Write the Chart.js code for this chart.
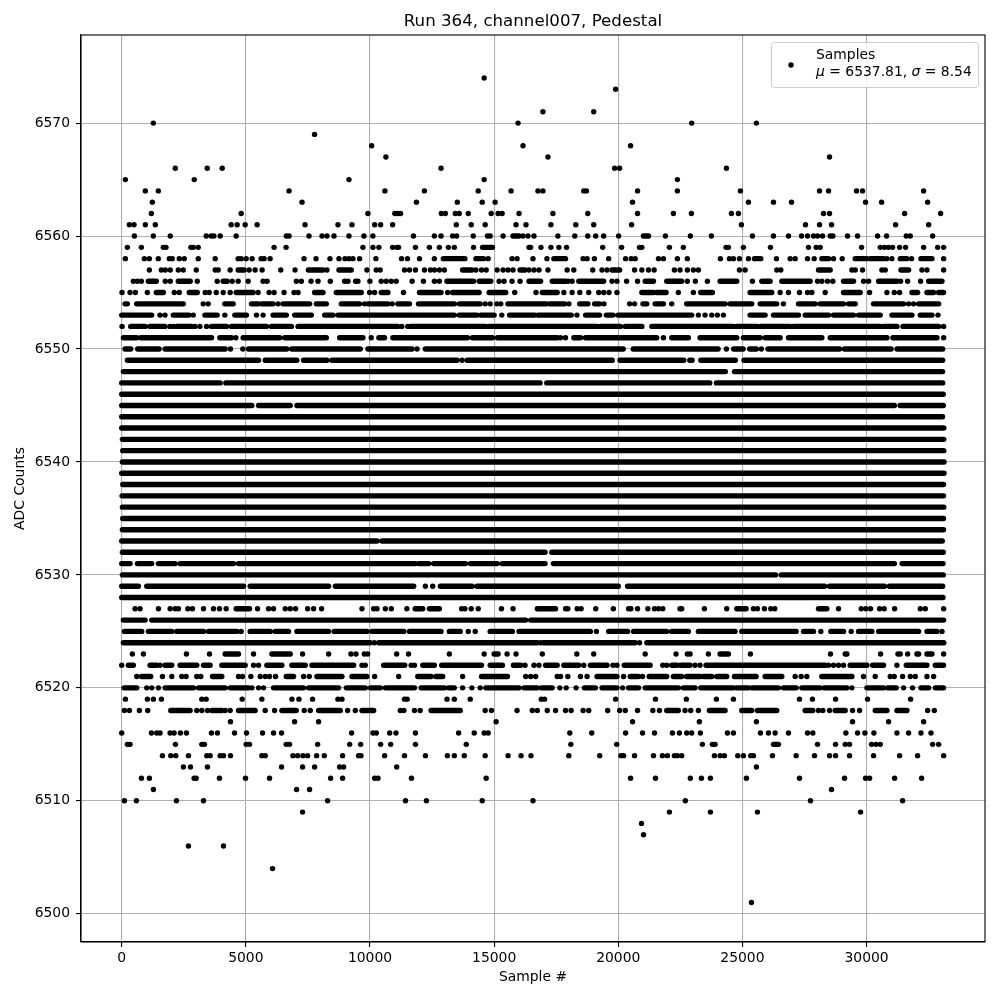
<!DOCTYPE html>
<html>
<head>
<meta charset="utf-8">
<title>Run 364, channel007, Pedestal</title>
<script src="https://cdn.jsdelivr.net/npm/chart.js@4"></script>
<style>
    html, body { margin: 0; padding: 0; background: #fff; }
    canvas { display: block; }
</style>
</head>
<body>
<canvas id="graficoPedestal" width="1000" height="1000"></canvas>
<script>
const xTicks = [0, 5000, 10000, 15000, 20000, 25000, 30000]
const yTicks = [6500, 6510, 6520, 6530, 6540, 6550, 6560, 6570]

// ADC level of each row, same order as samplesByLevel
const levels = [
    6574, 6573, 6571, 6570, 6569, 6568, 6567, 6566, 6565, 6564, 6563, 6562, 6561, 6560, 6559, 6558, 6557, 6556,
    6555, 6554, 6553, 6552, 6551, 6550, 6549, 6548, 6547, 6546, 6545, 6544, 6543, 6542, 6541, 6540, 6539, 6538,
    6537, 6536, 6535, 6534, 6533, 6532, 6531, 6530, 6529, 6528, 6527, 6526, 6525, 6524, 6523, 6522, 6521, 6520,
    6519, 6518, 6517, 6516, 6515, 6514, 6513, 6512, 6511, 6510, 6509, 6508, 6507, 6506, 6504, 6501
]

// a number is one sample, a pair is a stretch where the dots touch
const samplesByLevel = [
    [14599],
    [19893],
    [16965, 19011],
    [1273, 15963, 22957, 25564],
    [7767],
    [10066, 16163, 20495],
    [10640, 17166, 28508],
    [2157, 3444, 4047, 12861, 19853, 20054, 24355],
    [147, 2921, 9152, 14599, 22380],
    [951, 1474, 6740, 10600, 12192, 14358, 15682, 16765, 16965, 18610, 18717, 20776, 22380, 24919, 28105, 28468, 29596, 29838, 32298],
    [1233, 7263, 11871, 13516, 14519, 15040, 20575, 25242, 26250, 26976, 29959, 30605, 32459],
    [1193, 4811, 9916, 11000, 11122, 11229, 12874, 13035, 13436, 13596, 13957, 14880, 15160, 15321, 16003, 17366, 18770, 20776, 22220, 22944, 24556, 24839, 28266, 28508, 31532, 32983],
    [308, 496, 951, 1353, 4409, 4650, 4971, 5454, 7383, 8710, 9273, 10187, 10428, 10911, 13476, 14077, 14639, 15882, 16283, 17286, 18289, 19011, 20535, 24960, 27540, 28105, 28589, 31169, 32500],
    [509, 1273, 1956, 3404, 3605, 3712, 3966, 4610, 6633, 6740, 7544, 8067, 8268, 8549, 9152, 9755, 10117, 11751, 12593, 12861, 13329, 13489, 14158, 14733, 14840, 15361, [15762, 16003], 16163, 16364, 16604, 17567, 18249, 18770, 19091, 19412, 20014, [21017, 21217], 21899, 22903, 23750, 25403, 26250, 26855, 27380, 27621, 27863, 28024, 28226, 28535, 28642, 29234, 29637, 30443, 30806, 31599, 31760, 32661],
    [228, 791, 1675, 1782, 2787, 2881, 3082, 6137, 6620, 9715, 10117, 10358, 10911, 11085, 11149, 11831, 12393, 12794, 13155, 13396, 14171, [14532, 14933], 16404, 16471, 16885, 17286, 17607, 17915, 19372, 20134, 20856, 20950, 22059, 22621, 24341, 24436, 25040, 26129, 27661, 27970, 28131, 29798, 30551, 30722, 30884, 31047, 31330, 31572, 32298, 32862, 33104],
    [147, 911, 1112, 1474, 1916, 2037, 2318, 2519, 3082, 3765, 4690, 4811, 5012, 5253, 5615, 5735, 5976, 7343, 7826, 8388, 8750, 8991, 9152, 9313, 9581, 10238, 11270, 11510, 11992, 12593, [12954, 13823], [14265, 14572], 14759, 15722, 15922, 16564, 17126, [17406, 17875], 18583, 18744, 19038, 19613, 20295, 20522, 20682, 21618, 21819, 22380, 22782, 24113, 24476, 24637, 24879, 25242, [25484, 25739], 26371, 26922, 27124, 27621, 27890, [28199, 28468], 28669, 29019, [29543, 30013], [30148, 30685], 30820, 31021, [31357, 31626], 31814, [32190, 32634], 33104],
    [1112, 1595, 1755, 1956, 2278, 2479, 3002, 3765, 3886, 4368, [4690, 4932], 5132, 5373, 5655, 6405, 6981, [7517, 8107], 8268, [8750, 9246], 9876, 10251, 10412, 11390, 11590, 11831, 12192, 12433, 12593, 12794, 12995, [13730, 14104], 14265, 14492, 14679, 15120, 15361, 15562, 15762, [16043, 16243], 16404, 16604, 16805, 17166, 17941, 18209, 18971, 19345, 19546, [19747, 20054], 20655, 20950, 21217, 21444, 22260, 22487, 22782, 23024, 23226, 24879, 25108, 26384, 26546, [28064, 28535], 29408, 29543, 29838, 30618, 30752, [31384, 31693], 32231, 32432, 33104],
    [469, 630, 791, [1072, 1394], 1755, 1956, [2278, 2760], 3042, 3846, [4087, 4248], 4449, 4690, 5092, 5695, 5856, 7035, 7236, 7625, 7906, 8402, 8978, 9112, 9420, 9514, 9996, 10452, 10653, 10854, 11056, 11697, 12152, 12593, 12794, [13101, 14171], [14398, 14866], 15200, 15401, 15722, 16043, [16404, 16872], [17340, 17875], 17981, 18142, [18409, 19412], 19747, 19947, 20335, 20776, [21083, 21418], [21952, 22554], 22782, 23105, 23589, [24100, 24772], 25403, [25780, 26116], [26586, 27728], 28024, 28199, 28428, 28642, [29072, 29408], 29475, 29879, 30081, [30484, 31223], 31371, 31653, 32177, [32500, 33037]],
    [13, 335, 549, 1032, [1394, 1675], 2117, 2318, [2720, 3042], 3363, 3524, 3806, 4087, 4368, [4610, 5293], 5494, 5936, 6137, 6539, 6941, 7102, [7772, 8107], [8643, 9648], 9983, 10184, [10452, 10720], 11350, [11992, 12861], 13128, [13329, 14398], [14799, 15468], 15829, 16685, [16939, 17540], 17808, 18142, 18449, 18810, 19212, 19412, 19626, 19947, [20950, 21418], [21551, 21926], 22419, 23024, [23320, 23790], [25309, 26183], 26519, 26855, 27298, 27621, 27796, 28333, [29072, 29745], 30121, 30820, 31115, 31330, [31828, 32056], [32432, 32701], [32903, 33100]],
    [[134, 228], [603, 2479], 3283, 3484, [4154, 4489], [5226, 5494], [5628, 6097], 6298, [6499, 7571], [7839, 8241], [8844, 9581], 9782, [9916, 10720], 10894, 11122, [11190, 11590], [11952, 13396], [13596, 14438], 14639, 14840, 15107, 15267, [15555, 17099], [17233, 17838], 18012, [18443, 18778], [19047, 19248], 19423, 20457, 20658, [20993, 21150], [21485, 21819], 22153, [22755, 24301], [24503, 25376], [25712, 26384], 26653, [27258, 27930], [28131, 29072], [29274, 29543], [30282, 31491], 31693, 31894, [32096, 32903]],
    [[0, 1206], 1541, 1742, [2077, 2707], 2881, [3350, 3846], 4154, [4556, 5025], 5427, 5695, [6097, 6633], [6968, 7638], [8174, 8509], [8710, 13396], [13596, 14305], [14465, 15000], 15307, [15622, 16629], [16763, 18107], 18335, [18684, 19248], [19517, 19785], [19987, 22957], 23226, 23495, 23764, 23992, 24234, [25309, 25914], [26250, 27258], [27527, 28468], [28669, 29475], [29677, 30551], [31021, 31828], [32163, 32634], 32876],
    [13, [363, 940], [1139, 1742], 1943, 2077, [2211, 2815], 2949, 3149, 3417, [3618, 4221], [4422, 5829], [6030, 6834], [7102, 11122], 11280, 11520, [11630, 14666], [14799, 19145], [19278, 20081], [20281, 20950], [21351, 24637], [24772, 25578], [25712, 26922], [27056, 30551], [30685, 31223], [31465, 32903], 33104],
    [[67, 603], [764, 3618], [3953, 4422], 4596, [4891, 6365], [6566, 8241], [8777, 9715], 10050, [10358, 10586], [10921, 13930], [14131, 14933], [15134, 17540], 17674, 17875, [18209, 18476], [18677, 21551], 21819, [22153, 22823], [23293, 24772], [25040, 25712], [25914, 26519], [26855, 28199], [28535, 30820], [31061, 32835], 33104],
    [[134, 363], [645, 1505], [1747, 4166], 4381, 4879, [5107, 6653], [6854, 9610], [9919, 11693], 11894, [12230, 20201], [20603, 24020], 24355, [24650, 25025], [25293, 25561], 25762, [26030, 28911], [29112, 30988], [31229, 33065]],
    [[228, 5510], [5779, 7056], [7325, 8266], [8467, 13507], 13708, [13910, 19759], [20067, 22640], [22881, 22975], [23323, 24717], [25065, 33065]],
    [[67, 24315], [24677, 33065]],
    [[0, 3965], [4193, 16851], [17119, 23685], [23953, 33065]],
    [[0, 33090]],
    [[0, 5242], [5510, 6787], [7056, 31122], [31350, 33090]],
    [[0, 33060]],
    [[0, 33110]],
    [[27, 33110]],
    [[40, 33110]],
    [[27, 33120]],
    [[0, 33120]],
    [[40, 33100]],
    [[13, 33100]],
    [[27, 33110]],
    [[40, 33100]],
    [[27, 33100]],
    [[0, 10282], [10483, 33050]],
    [[27, 17052], [17320, 33090]],
    [[0, 336], [632, 1210], [1478, 2150], [2352, 4502], [4704, 11827], [11962, 12365], [12566, 13843], [14045, 15120], [15320, 17052], [17387, 31122], [31430, 33080]],
    [[27, 26338], [26566, 33090]],
    [[0, 672], [1008, 4906], [5174, 8333], [8602, 11760], 12230, 12526, [12835, 14112], [14314, 20000], [20375, 28308], [28509, 30720], [30921, 33065]],
    [[0, 33080]],
    [538, 739, 1478, 1949, 2150, 2285, 2661, 2849, 3293, 3696, 3938, 4207, [4610, 5148], 5470, 5914, 6115, 6586, 6787, 7002, 7486, 7728, 8051, 9677, 10147, 10282, 10618, 10860, 11484, [11818, 12125], [12393, 12794], 13690, 13823, 14077, 14358, 15294, 15762, [16738, 17473], 17875, 17968, 18343, 18503, 19091, 19800, 20415, 20508, 20776, 21190, 21458, 21618, 21792, 22487, 22554, 23468, 24368, [24772, 25148], 25444, 25605, 25887, 26142, 26304, [28064, 28400], 28871, 29785, 29973, 30161, 30524, 30712, 31129, 32164, 32365, 33104],
    [[67, 941], [1210, 16270], [16470, 33104]],
    [[108, 806], [1075, 2016], [2218, 3293], [3494, 4637], 4811, [5174, 5981], [6182, 6720], [7056, 8333], [8561, 9878], [10080, 11363], [11590, 12861], [13195, 13636], 13957, 14238, [14840, 15735], [16003, 18877], 19118, [19613, 20375], [20615, 21952], [22150, 22823], [23226, 24704], [24973, 27164], [27460, 27863], 28158, [28562, 29072], 29381, [29677, 30215], [30484, 32096], [32432, 32835], 33037],
    [[67, 10013], 10174, [10349, 16738], 16872, [16979, 20682], 20856, [21150, 33110]],
    [430, 874, 2607, 3535, [4166, 4704], 5309, [6048, 6787], 7284, 8333, 9233, 9435, 9771, 9905, 11074, 11550, 13195, 14599, [15000, 15160], 15521, 15882, 16939, 18329, 19011, 21083, 22327, 22782, 22890, 23629, [24100, 24436], 25322, 28548, 29140, 29207, 30564, 31263, 31356, 31653, 32029, 32096, [32432, 32634], 33104],
    [0, [269, 470], [1142, 1411], 1545, [1747, 2016], [2352, 3024], [3293, 3562], [4032, 4973], 5309, 5510, [5846, 6451], [6854, 7392], [7661, 9341], 9677, 9811, [10550, 11400], 11658, 11791, [12125, 12593], [12888, 14492], [14840, 15334], [15775, 16070], 16243, 16604, 16805, [17072, 17540], [17808, 18409], 18610, [18877, 19546], 19787, 19947, [20241, 21284], 21792, 21952, [22153, 22354], [22487, 22890], 23092, 23293, [23535, 28333], 28467, 28668, 28871, 29072, [29340, 30013], [30242, 30685], 31223, [31599, 32432], [32768, 33100]],
    [605, [800, 1169], 1640, 2016, 2419, 2594, 3024, 3185, [3656, 4032], 4704, 4865, 5201, 5578, 5779, 5954, 6196, [6626, 6922], 7325, 7553, [7862, 8870], [9274, 9878], 10188, 11155, [11925, 12460], [12660, 12928], 13730, [14492, 15535], 16270, 16470, 16671, 17540, 17674, 17968, 18476, 18744, [19145, 19947], 20215, [20482, 20816], 20976, [21244, 21952], [22220, 22554], [22756, 23293], [23427, 23764], [23966, 24368], [24677, 25551], [25914, 26586], 27124, 27366, 27594, [28198, 29408], 29879, 30349, 30954, 31115, 31451, 31760, 31962, 32432, 32701],
    [[94, 605], 1008, 1210, 1478, [1747, 2890], [3091, 4166], [4368, 5107], 5242, 5510, 5712, [6115, 7325], [7526, 8736], [9045, 9811], [10013, 10416], [10618, 11791], [12059, 12995], [13155, 13396], 13730, 14104, 14438, [14666, 16003], [16203, 16738], [16899, 17340], 17647, 17901, 18302, [18637, 19078], [19345, 19947], 20175, [20415, 20816], [21083, 22420], [22621, 23092], [23320, 24637], [24772, 25242], [25376, 26451], [26653, 27164], [27392, 28131], [28293, 29207], 29408, [30013, 30685], [30846, 31196], 31491, 31854, [32190, 32500], [32768, 33100]],
    [148, 1035, 1277, 1599, 3226, 3400, 4852, 5645, 6854, 7137, 7688, 8709, 8870, 11390, 11497, 13101, 13396, 14037, 16899, 17032, 19893, 21498, 22742, 23952, 24637, 27298, 27822, 28750, 30040, 31774],
    [108, 309, 712, 1048, [1976, 2755], 3024, 3226, 3454, [3629, 4032], 4166, 4368, [4704, 5376], 5779, 6156, [6451, 7029], 7352, 7594, [7930, 8803], 9099, 9408, [9677, 10147], 11222, 11363, 11791, 12019, [12460, 13636], 14639, 14893, 15922, 16538, 16738, 17139, 17473, 17875, 18102, 18583, 18810, 19573, 20054, 20281, 20776, 21391, 21658, [21952, 22420], 22688, 22917, 23226, [23669, 24301], [24973, 25376], [25605, 26384], [27527, 27836], 28064, 28239, 28508, [28736, 29140], 29435, 29717, [30349, 30820], [31223, 31626], 32459, 32728],
    [4381, 6962, 7930, 15080, 20575, 23266, 25564, 29435, 30887, 32298],
    [0, 1196, 1411, 1545, 1949, 2110, 2365, 2607, 3615, 3857, 4543, 5026, 5672, 6115, 6438, 9260, 10120, 10255, 10792, 11047, 11831, 13569, 14198, 14599, 14759, 18048, 18931, 20295, 20976, 21458, 22180, 22460, 22756, 22957, 23306, 24395, 24637, 25726, 26048, 26317, 26855, 27621, 27836, 29166, 29637, 29932, 30295, 31223, 31693, 32190, 32594],
    [228, 336, 2164, 3226, 3333, 5013, 5148, 6626, 6760, 7889, 9180, 9623, 10429, 10833, 11831, 13877, 18088, 19934, 23387, 23790, 23898, [26250, 26451], 28024, 28750, 29140, 29314, 30201, 30380, 30551, 32661, 32903],
    [1640, 1976, 2177, 2688, 3427, 3562, 3965, 4099, 4381, 5645, 5779, 6895, 7083, 7298, 7486, 7849, 8158, 8897, 9542, 9636, 10591, 11390, 12232, 13115, 13396, 13797, 14639, 15562, 16083, 16484, 18008, 19252, 20107, 20215, 20655, 21418, 21778, 21979, 22260, 22380, 22554, 23871, 24100, 24274, 24812, 25040, 25336, 25444, 26210, 27164, 27903, 28508, 28750, 29314, 30282, 31330, 32056, 33104],
    [2486, 2769, 3454, 6438, 7284, 7769, 8776, 8938, 11075, 25564],
    [793, 1116, 2916, 2997, 3938, 4986, 5954, 8413, 8897, 10188, 10322, 11671, 14679, 20495, 21498, 22903, 23347, 23710, 25161, 27298, 29113, 29959, 30121, 31129, 32217],
    [1277, 7042, 7566, 28588],
    [108, 591, 2204, 3293, 8292, 11430, 12272, 14519, 16564, 22702, 27742, 31451],
    [7284, 22059, 23710, 25605, 29758],
    [20936],
    [21016],
    [2688, 4099],
    [6075],
    [25363]
]

const seriesLabel = 'Samples'
const legendStats = [['\u03bc', true], [' = 6537.81, ', false], ['\u03c3', true], [' = 8.54', false]]

// single samples go to a point dataset, touching stretches to a line dataset
const puntos = []
const tramos = []
levels.forEach((nivel, i) => {
    samplesByLevel[i].forEach(muestra => {
        if (Array.isArray(muestra)) {
            tramos.push({ x: muestra[0], y: nivel }, { x: muestra[1], y: nivel }, { x: muestra[1], y: null })
        } else {
            puntos.push({ x: muestra, y: nivel })
        }
    })
})

const fuente = '"DejaVu Sans", sans-serif'
Chart.defaults.font.family = fuente
Chart.defaults.font.size = 13.9
Chart.defaults.color = '#000'

// top and right spines plus the legend box inside the plot
const marcoYLeyenda = {
    id: 'marcoYLeyenda',
    afterDraw(chart) {
        const ctx = chart.ctx
        const area = chart.chartArea
        ctx.save()
        ctx.strokeStyle = '#000'
        ctx.lineWidth = 1.1
        ctx.strokeRect(area.left, area.top, area.right - area.left, area.bottom - area.top)

        ctx.beginPath()
        ctx.roundRect(771.5, 42.5, 207, 45, 3)
        ctx.fillStyle = 'rgba(255,255,255,0.8)'
        ctx.fill()
        ctx.strokeStyle = '#ccc'
        ctx.lineWidth = 1
        ctx.stroke()

        ctx.fillStyle = '#000'
        ctx.beginPath()
        ctx.arc(791, 65, 2.7, 0, Math.PI * 2)
        ctx.fill()

        ctx.textBaseline = 'alphabetic'
        ctx.font = '13.9px ' + fuente
        ctx.fillText(seriesLabel, 816, 59)
        let x = 816
        legendStats.forEach(([texto, cursiva]) => {
            ctx.font = (cursiva ? 'italic ' : '') + '13.9px ' + fuente
            ctx.fillText(texto, x, 76)
            x += ctx.measureText(texto).width
        })
        ctx.restore()
    }
}

new Chart(document.getElementById('graficoPedestal'), {
    type: 'scatter',
    data: {
        datasets: [
            {
                label: seriesLabel,
                data: puntos,
                backgroundColor: '#000',
                borderWidth: 0,
                pointRadius: 2.7
            },
            {
                label: seriesLabel,
                data: tramos,
                showLine: true,
                spanGaps: false,
                borderColor: '#000',
                borderWidth: 5.4,
                borderCapStyle: 'round',
                pointRadius: 0
            }
        ]
    },
    options: {
        responsive: false,
        animation: false,
        events: [],
        layout: { padding: { right: 15 } },
        plugins: {
            legend: { display: false },
            tooltip: { enabled: false },
            title: {
                display: true,
                text: 'Run 364, channel007, Pedestal',
                fullSize: false,
                color: '#000',
                font: { size: 16.67, weight: 'normal' },
                padding: { top: 12, bottom: 3 }
            }
        },
        scales: {
            x: {
                type: 'linear',
                min: -1640,
                max: 34770,
                afterFit: escala => { escala.height = 58 },
                afterBuildTicks: escala => { escala.ticks = xTicks.map(value => ({ value })) },
                ticks: { callback: v => String(v), autoSkip: false, maxRotation: 0, padding: 3, color: '#000' },
                grid: { color: '#b0b0b0', lineWidth: 1.1, tickColor: '#000', tickLength: 5, tickWidth: 1.1 },
                border: { color: '#000', width: 1.1 },
                title: { display: true, text: 'Sample #', color: '#000', padding: { top: 0, bottom: 14 } }
            },
            y: {
                type: 'linear',
                min: 6497.5,
                max: 6577.8,
                afterFit: escala => { escala.width = 81 },
                afterBuildTicks: escala => { escala.ticks = yTicks.map(value => ({ value })) },
                ticks: { callback: v => String(v), autoSkip: false, padding: 6, color: '#000' },
                grid: { color: '#b0b0b0', lineWidth: 1.1, tickColor: '#000', tickLength: 5, tickWidth: 1.1 },
                border: { color: '#000', width: 1.1 },
                title: { display: true, text: 'ADC Counts', color: '#000', padding: { top: 12, bottom: 0 } }
            }
        }
    },
    plugins: [marcoYLeyenda]
})
</script>
</body>
</html>
